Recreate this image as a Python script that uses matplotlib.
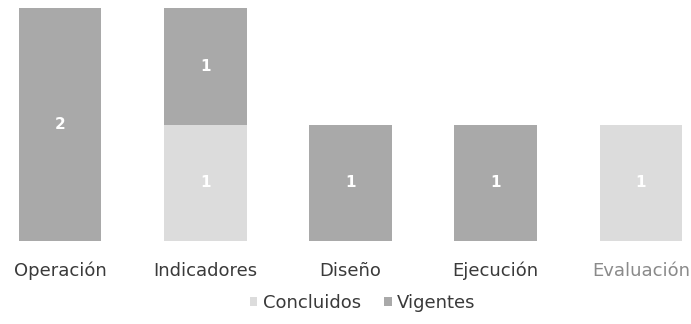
import numpy as np
import matplotlib.pyplot as plt

categorias = ['Operación', 'Indicadores', 'Diseño', 'Ejecución', 'Evaluación']
concluidos = [0, 1, 0, 0, 1]
vigentes = [2, 1, 1, 1, 0]

color_concluidos = '#dcdcdc'
color_vigentes = '#a9a9a9'

fig = plt.figure(figsize=(6.91, 3.24), dpi=100)
ax = fig.add_axes([0, 0.256, 1, 0.719])

x = np.arange(len(categorias))
ancho = 0.57
b1 = ax.bar(x, concluidos, ancho, color=color_concluidos, label='Concluidos')
b2 = ax.bar(x, vigentes, ancho, bottom=concluidos, color=color_vigentes, label='Vigentes')

# valores dentro de cada segmento
for barras, vals in [(b1, concluidos), (b2, vigentes)]:
    for rect, v in zip(barras, vals):
        if v > 0:
            ax.text(rect.get_x() + rect.get_width() / 2,
                    rect.get_y() + rect.get_height() / 2,
                    str(v), ha='center', va='center',
                    color='white', fontsize=11, fontweight='bold')

ax.set_xlim(-0.413, 4.344)
ax.set_ylim(0, 2)
ax.set_xticks(x)
ax.set_xticklabels(categorias, fontsize=13, color='#3a3a3a')
ax.get_xticklabels()[-1].set_color('#8a8a8a')
ax.tick_params(axis='x', length=0, pad=15)
ax.set_yticks([])
for s in ax.spines.values():
    s.set_visible(False)

fig.legend(loc='center', bbox_to_anchor=(0.525, 0.065), ncol=2, frameon=False,
           fontsize=13, handlelength=0.4, handleheight=0.4,
           handletextpad=0.3, columnspacing=1.3, labelcolor='#3a3a3a')

fig.savefig('out.png', dpi=100)
